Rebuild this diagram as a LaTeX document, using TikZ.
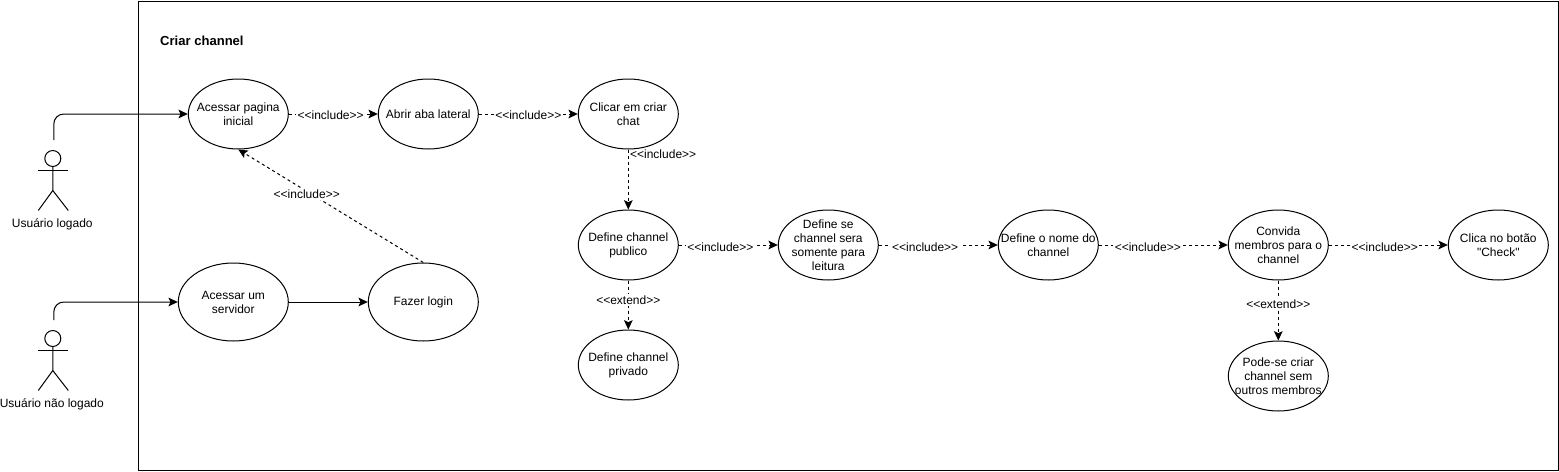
\documentclass[tikz,border=0pt]{standalone}
\usepackage{fontspec}
\setmainfont[Ligatures=NoCommon,Mapping={}]{Liberation Sans}
\usetikzlibrary{arrows.meta,shapes.geometric}
\newcommand{\incl}{{<}{<}include{>}{>}}
\newcommand{\extd}{{<}{<}extend{>}{>}}
\tikzset{%
    usecase/.style={%
        ellipse, draw=black, fill=white, inner sep=-10pt, minimum width=75pt, minimum height=52.5pt, align=center
    },
    bigcase/.style={%
        usecase, minimum width=82.5pt, minimum height=58.5pt
    },
    txt/.style={%
        align=center, inner sep=1pt
    },
    edgetxt/.style={%
        txt, fill=white
    },
    dep/.style={%
        dash pattern=on 2.25pt off 2.25pt, -{Stealth[length=7pt,width=6.5pt,inset=1.5pt]}
    },
    assoc/.style={%
        -{Stealth[length=7pt,width=6.5pt,inset=1.5pt]}
    },
}
\begin{document}
\begin{tikzpicture}[x=0.75pt,y=-0.75pt,font=\fontsize{9}{10.5}\selectfont,line width=0.75pt]
      \useasboundingbox (0.7,0) rectangle (1559.7,471);
      \node[draw, minimum width=1064.7pt, minimum height=352pt, anchor=north west, inner sep=0pt] (frame) at (139,0.7) {};
      \node[txt, anchor=west, font=\fontsize{9.8}{11}\selectfont\bfseries] (title) at (159,41) {Criar channel};
      % use cases
      \node[usecase] (acessar) at (239,114) {Acessar pagina\\inicial};
      \node[usecase] (abrir) at (429,114) {Abrir aba lateral};
      \node[usecase] (clicar) at (629,114) {Clicar em criar\\chat};
      \node[usecase] (publico) at (629,245) {Define channel\\publico};
      \node[usecase] (leitura) at (829,245) {Define se\\channel sera\\somente para\\leitura};
      \node[usecase] (nome) at (1049,245) {Define o nome do\\channel};
      \node[usecase] (convida) at (1279,245) {Convida\\membros para o\\channel};
      \node[usecase] (check) at (1499,245) {Clica no botão\\"Check"};
      \node[usecase] (privado) at (629,365) {Define channel\\privado};
      \node[usecase] (semmembros) at (1279,376) {Pode-se criar\\channel sem\\outros membros};
      \node[bigcase] (servidor) at (234,302) {Acessar um\\servidor};
      \node[bigcase] (login) at (424,302) {Fazer login};
      % actors
      \node[circle, draw, minimum size=12pt, inner sep=0pt] (head1) at (53.5,158.5) {};
      \draw (39,170.5) -- (69,170.5);
      \draw (head1.south) -- (53.5,190.5) -- (39,210.5);
      \draw (53.5,190.5) -- (69,210.5);
      \node[txt] (logado) at (53,224) {Usuário logado};
      \node[circle, draw, minimum size=12pt, inner sep=0pt] (head2) at (53.5,338.5) {};
      \draw (39,350.5) -- (69,350.5);
      \draw (head2.south) -- (53.5,370.5) -- (39,390.5);
      \draw (53.5,370.5) -- (69,390.5);
      \node[txt] (naologado) at (52.5,404) {Usuário não logado};
      \coordinate (start1) at (54.5,140);
      \coordinate (start2) at (54.5,320);
      % connectors
      \draw[assoc, rounded corners=7.5pt] (start1) |- (acessar.west);
      \draw[assoc, rounded corners=7.5pt] (start2) |- (servidor.west);
      \draw[assoc] (servidor) -- (login);
      \draw[dep] (login.north) -- node[edgetxt, pos=0.63, yshift=-2pt] (lbl1) {\incl} (acessar.south);
      \draw[dep] (acessar) -- node[edgetxt, pos=0.47, yshift=-0.75pt] (lbl2) {\incl} (abrir);
      \draw[dep] (abrir) -- node[edgetxt, pos=0.5, yshift=-0.75pt] (lbl3) {\incl} (clicar);
      \draw[dep] (clicar) -- node[txt, right=0pt, pos=0.08] (lbl4) {\incl} (publico);
      \draw[dep] (publico) -- node[edgetxt, pos=0.42, yshift=-1.5pt] (lbl5) {\incl} (leitura);
      \draw[dep] (leitura) -- node[edgetxt, pos=0.39, yshift=-1.5pt] (lbl6) {\incl} (nome);
      \draw[dep] (nome) -- node[edgetxt, pos=0.38, yshift=-1.5pt] (lbl7) {\incl} (convida);
      \draw[dep] (convida) -- node[edgetxt, pos=0.47, yshift=-1.5pt] (lbl8) {\incl} (check);
      \draw[dep] (publico) -- node[edgetxt, pos=0.4] (lbl9) {\extd} (privado);
      \draw[dep] (convida) -- node[edgetxt, pos=0.39] (lbl10) {\extd} (semmembros);
    \end{tikzpicture}
\end{document}
